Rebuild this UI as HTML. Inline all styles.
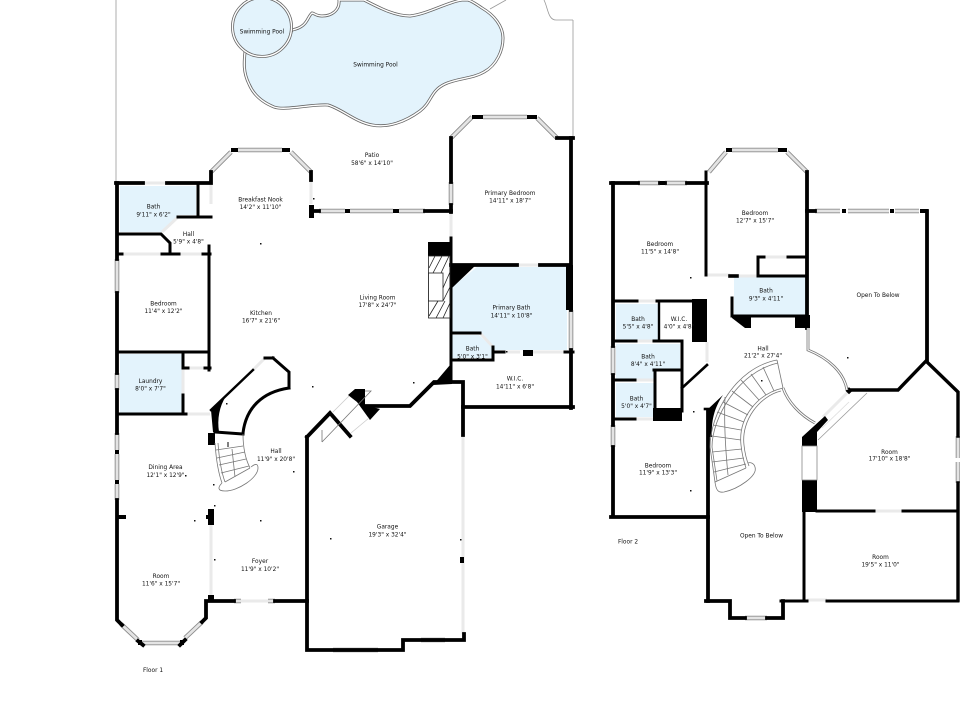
<!DOCTYPE html>
<html><head><meta charset="utf-8"><style>
html,body{margin:0;padding:0;background:#fff;width:960px;height:720px;overflow:hidden}
svg{display:block;filter:blur(.25px)}
text{font-family:"DejaVu Sans","Liberation Sans",sans-serif;font-size:5.85px;fill:#111;text-anchor:middle}
.g{fill:none;stroke:#777;stroke-width:.8}
.k{fill:none;stroke:#000;stroke-linecap:square;stroke-linejoin:miter}
.d{fill:none;stroke:#eaeaea;stroke-width:3}
</style></head><body>
<svg width="960" height="720" viewBox="0 0 960 720" xmlns="http://www.w3.org/2000/svg">
<rect width="960" height="720" fill="#fff"/>
<defs>
<path id="big" d="M245,52 C244,62 243,72 249,84 C254,96 264,103 274,107 C285,111 310,104 328,105 C342,109 355,122 372,125 C388,128 405,122 420,111 C432,102 430,91 445,84 C458,78 472,79 484,72 C497,65 503,50 503,38 C503,26 494,15 482,8 C476,4 472,1 468,0 L462,0 C450,1 428,14 410,16 C394,16 378,7 364,0 L339,0 C340,10 332,16 322,16 C316,16 314,13 312,13 C307,17 308,27 292,30 L288,40 C280,52 262,58 245,52 Z"/>
<path id="win" d="M211,172L231,152M238,150H282M291,152L311,172M319,211H345M350,211H393M399,211H425M117,259V293M117,373V390M117,433V450M117,454V480M117,484V500M121,624L138,640M142,643H180M185,638L202,622M234,601H241M268,601H275M451,182V205M483,117H527M537,118L557,138M451,138L472,117M571,310V350M333,650H378M421,640H445M638,183H660M665,183H687M613,346V375M613,425V447M709,172L726,152M732,150H778M787,152L807,172M815,211H840M848,211H889M895,211H919M958,436V458M958,462V483M745,618H767"/>
</defs>

<!-- property line -->
<path class="g" style="stroke:#999" d="M116,0V182M573,20V138M573,20H556C548,20 548,8 544,0M490,9L506,0"/>

<!-- pools -->
<use href="#big" fill="#e3f3fc" stroke="#666" stroke-width="3"/>
<use href="#big" fill="none" stroke="#fff" stroke-width="1.4"/>
<circle cx="262" cy="27" r="29.5" fill="#e3f3fc" stroke="#666" stroke-width="3"/>
<circle cx="262" cy="27" r="29.5" fill="none" stroke="#fff" stroke-width="1.4"/>

<!-- blue rooms -->
<g fill="#e3f3fc">
<path d="M120,186H196V215H178L162,232H120Z"/>
<rect x="120" y="354" width="62" height="59"/>
<path d="M452,287L477,267H567V350H493V346L479,333H452Z"/>
<path d="M452,335H479L492,347V358H452Z"/>
<rect x="616" y="304" width="42" height="36"/>
<path d="M616,344H680V369H654V380H616Z"/>
<rect x="616" y="383" width="38" height="34"/>
<rect x="734" y="277" width="72" height="38"/>
</g>

<!-- doors / openings light -->
<path class="d" d="M142,183H167M211,180V204M311,180V204M162,232L178,217M122,254H162M179,254H203M188,368H205M183,368V395M186,414H210M253,370L265,358M211,525V595M241,601H268M451,212V238M517,265H540M504,352H520M533,352H565M480,333L493,347M463,435V634M637,301H657M636,341H654M635,380H654M635,419H653M707,342V362M707,275H730M737,276H758M764,257H788M874,511H903M807,600H827M823,417L849,391"/>

<!-- windows -->
<use href="#win" fill="none" stroke="#8c8c8c" stroke-width="4.6"/>
<use href="#win" fill="none" stroke="#e4e4e4" stroke-width="2.8"/>

<!-- FLOOR 1 WALLS -->
<g class="k" stroke-width="3.8" stroke-linecap="butt">
<path d="M116,183H143M167,183H211V172"/>
<path d="M117,183V259M117,293V373M117,390V433M117,500V620L122,625M138,641L143,645M180,645L185,640M202,622L206,618V601H234M275,601H307"/>
<path d="M311,172V180"/>
<path d="M307,437V650H403V640H464V634"/>
<path d="M307,437L330,413L350,436"/>
<path d="M365,406H410L434,382H463V435"/>
<path d="M463,407H573"/>
<path d="M571,138V310M571,350V408"/>
<path d="M557,138H573"/>
<path d="M451,138V182M451,205V212"/>
<path d="M315,211H319M425,211H451"/>
<path d="M451,265H517M540,265H570"/>
<path d="M198,183V217M178,217H211" stroke-width="3"/>
<path d="M117,234H161L170,243V254" stroke-width="3"/>
<path d="M117,254H122M162,254H179M203,254H210" stroke-width="3"/>
<path d="M209,246V254M209,254V370M117,352H209M183,352V368H188M205,368H210M183,395V414M117,414H186" stroke-width="3"/>
<path d="M451,238V382" stroke-width="3"/>
<path d="M452,333H480M493,347V360H451M493,352H504M565,352H573" stroke-width="3"/>
<path d="M273,358H265M273,358L289,372V388" stroke-width="3"/>
<path d="M211,410L253,370" stroke-width="2.4"/>
<path d="M289,388C262,392 246,408 243,433" stroke-width="3"/>
<path d="M215,432L243,434" stroke-width="3"/>
</g>
<g fill="#000">
<rect x="309" y="205" width="5" height="13"/>
<rect x="345" y="209" width="5" height="4"/><rect x="393" y="209" width="6" height="4"/>
<rect x="231" y="148" width="7" height="4"/><rect x="282" y="148" width="8" height="4"/>
<rect x="472" y="115" width="11" height="4"/><rect x="527" y="115" width="10" height="4"/>
<rect x="138" y="640" width="4" height="5"/><rect x="180" y="640" width="4" height="5"/>
<rect x="115" y="450" width="4" height="4"/><rect x="115" y="480" width="4" height="4"/>
<rect x="117" y="515" width="9" height="4"/>
<rect x="206" y="515" width="8" height="4"/><rect x="208" y="509" width="6" height="16"/>
<rect x="208" y="595" width="6" height="6"/>
<rect x="208" y="433" width="7" height="12"/>
<rect x="428" y="242" width="24" height="14"/>
<path d="M451,264H477L452,288Z"/>
<rect x="566" y="265" width="7" height="45"/>
<rect x="523" y="350" width="10" height="6"/>
<path d="M433,385L450,365L452,384Z"/>
<path d="M348,395L355,389H365V405L380,409L370,420L357,402Z"/>
<path d="M211,410L226,396Q216,412 219,432L213,432Z"/>
<rect x="460" y="557" width="4" height="6"/>
<!-- floor 2 blocks -->
<rect x="692" y="299" width="15" height="43"/>
<rect x="653" y="408" width="29" height="13"/>
<path d="M732,315H751V328H745L732,318Z"/>
<rect x="795" y="315" width="15" height="13"/>
<path d="M825,416L828,420L817,432V446H802V437Z"/>
<rect x="802" y="480" width="15" height="32"/>
<path d="M707,410L723,395C714,408 711,422 712,437H707Z"/>
<rect x="847" y="388" width="5" height="5" transform="rotate(45 849 390)"/>
<rect x="726" y="148" width="6" height="4"/><rect x="778" y="148" width="9" height="4"/>
<rect x="842" y="209" width="4" height="4"/><rect x="890" y="209" width="4" height="4"/>
<rect x="920" y="209" width="8" height="4"/>
<rect x="660" y="181" width="5" height="4"/>
</g>

<!-- fireplace -->
<g fill="none" stroke="#222" stroke-width=".8">
<rect x="428.500" y="256" width="21.500" height="62"/>
<rect x="428.500" y="273" width="14.500" height="28" fill="#fff"/>
<path d="M429,268L435,256M433,273L442,256M441,273L449,256M443,288L450,272M443,301L450,287M429,316L438,301M436,318L445,301M443,318L450,303"/>
</g>

<!-- garage door hatch -->
<path class="g" d="M322,442V430M322,442L371,391H365"/>
<path d="M332,413L349,396M351,433L369,418" fill="none" stroke="#ccc" stroke-width=".8"/>

<!-- stair floor 1 -->
<g class="g" stroke-width=".7">
<path d="M215,443C216,458 218,472 222,483M218,443C219,457 221,471 225,482"/>
<path d="M243,434C243,446 245,458 250,468"/>
<path d="M222,483C218,487 217,491 225,491C238,491 258,478 258,468C258,464 256,463 251,467"/>
<path d="M216,450L243,446M217,458L245,452M219,465L246,459M221,473L249,466M225,482L250,468M232,449L235,477"/>
</g>
<path d="M228,447V442" stroke="#000" stroke-width="1"/>

<!-- FLOOR 2 WALLS -->
<g class="k" stroke-width="3.800" stroke-linecap="butt">
<path d="M611,183H638M660,183H665M687,183H707"/>
<path d="M613,183V346M613,375V425M613,447V517M611,517H708"/>
<path d="M706,172V275" stroke-width="3"/>
<path d="M807,172V328"/>
<path d="M807,211H815"/>
<path d="M927,211V361"/>
<path d="M851,390H898L926,361L958,392V436M958,483V600" stroke-width="3.400"/>
<path d="M817,511H874M903,511H958" stroke-width="3"/>
<path d="M804,512V600" stroke-width="3"/>
<path d="M781,601H807M827,601H958" stroke-width="3"/>
<path d="M708,410V601"/>
<path d="M706,601H730V618H745M767,618H783V601"/>
<path d="M613,301H637M657,301H692" stroke-width="3"/>
<path d="M659,301V341" stroke-width="2.400"/>
<path d="M613,341H636M654,341H682V411" stroke-width="3"/>
<path d="M654,370H681M655,370V410" stroke-width="3"/>
<path d="M613,380H635M613,419H635" stroke-width="3"/>
<path d="M682,388L707,365" stroke-width="2.600"/>
<path d="M705,409H710" stroke-width="2.600"/>
<path d="M758,276H807M758,276V257H764M788,257H807" stroke-width="3"/>
<path d="M730,276H737" stroke-width="3.600"/>
<path d="M732,298V316H807" stroke-width="3"/>
</g>
<rect x="802" y="446" width="15" height="34" fill="#fff" stroke="#888" stroke-width=".8"/>

<!-- curved walls / stair floor 2 -->
<g fill="none">
<path d="M808,328V350C828,358 844,372 847,390" stroke="#777" stroke-width="2.800"/>
<path d="M808,328V350C828,358 844,372 847,390" stroke="#fff" stroke-width="1.200"/>
<path d="M783,388C788,402 800,415 815,423" stroke="#777" stroke-width="2.800"/>
<path d="M783,388C788,402 800,415 815,423" stroke="#fff" stroke-width="1.200"/>
</g>
<g class="g" stroke-width=".7">
<path d="M710,447C710,415 735,368 777,360M712,447C712,418 738,372 778,363"/>
<path d="M777,360L783,388"/>
<path d="M783,388C757,394 738,418 741,445C742,455 744,462 746,468M781,391C760,396 741,420 744,445C745,455 747,461 749,466"/>
<path d="M710,447L715,482L746,468M712,447L717,481"/>
<path d="M715,482C716,490 718,493 724,492C738,489 758,476 755,467C754,463 750,462 748,463"/>
<path d="M712,436L741,440M713,425L741,430M717,412L744,422M723,402L748,415M732,391L753,407M741,380L759,400M751,374L766,395M763,367L774,391M712,452L742,449M712,462L744,458M714,472L746,464"/>
<path d="M725,397C724,420 725,445 728,475"/>
</g>
<path class="g" style="stroke:#999" d="M818,440L867,393"/>
<path d="M822,428L849,402" stroke="#ddd" stroke-width=".8" fill="none"/>

<!-- wall ticks -->
<g fill="#111">
<rect x="260" y="243" width="1.500" height="1.500"/><rect x="185" y="475" width="1.500" height="1.500"/>
<rect x="194" y="520" width="1.500" height="1.500"/><rect x="260" y="520" width="1.500" height="1.500"/>
<rect x="312" y="386" width="1.500" height="1.500"/><rect x="313" y="198" width="1.500" height="1.500"/>
<rect x="413" y="382" width="1.500" height="1.500"/><rect x="506" y="351" width="1.500" height="1.500"/>
<rect x="226" y="403" width="1.500" height="1.500"/><rect x="213" y="484" width="1.500" height="1.500"/>
<rect x="214" y="505" width="1.500" height="1.500"/><rect x="214" y="559" width="1.500" height="1.500"/>
<rect x="690" y="277" width="1.500" height="1.500"/><rect x="690" y="490" width="1.500" height="1.500"/>
<rect x="693" y="411" width="1.500" height="1.500"/><rect x="761" y="380" width="1.500" height="1.500"/>
<rect x="847" y="357" width="1.500" height="1.500"/><rect x="293" y="471" width="1.500" height="1.500"/>
<rect x="460" y="539" width="1.500" height="1.500"/><rect x="330" y="538" width="1.500" height="1.500"/>
</g>

<!-- LABELS FLOOR 1 -->
<text x="262" y="33.500">Swimming Pool</text>
<text x="375.500" y="66.500">Swimming Pool</text>
<text x="372" y="157">Patio</text><text x="372" y="165">58'6" x 14'10"</text>
<text x="260.500" y="201.500">Breakfast Nook</text><text x="260.500" y="209">14'2" x 11'10"</text>
<text x="153.500" y="208.500">Bath</text><text x="153.500" y="216.500">9'11" x 6'2"</text>
<text x="188.500" y="236">Hall</text><text x="188.500" y="243.500">5'9" x 4'8"</text>
<text x="510" y="195">Primary Bedroom</text><text x="510" y="202.500">14'11" x 18'7"</text>
<text x="163.500" y="305.500">Bedroom</text><text x="163.500" y="313">11'4" x 12'2"</text>
<text x="261" y="315">Kitchen</text><text x="261" y="322.500">16'7" x 21'6"</text>
<text x="377.500" y="299.500">Living Room</text><text x="377.500" y="307">17'8" x 24'7"</text>
<text x="511.500" y="309.500">Primary Bath</text><text x="511.500" y="317.500">14'11" x 10'8"</text>
<text x="472.500" y="350.500">Bath</text><text x="472.500" y="358.500">5'0" x 3'1"</text>
<text x="515" y="380.500">W.I.C.</text><text x="515" y="388.500">14'11" x 6'8"</text>
<text x="150.500" y="383">Laundry</text><text x="150.500" y="390.500">8'0" x 7'7"</text>
<text x="165.500" y="469">Dining Area</text><text x="165.500" y="477">12'1" x 12'9"</text>
<text x="276" y="453">Hall</text><text x="276" y="461">11'9" x 20'8"</text>
<text x="161" y="578">Room</text><text x="161" y="585.500">11'6" x 15'7"</text>
<text x="260" y="563">Foyer</text><text x="260" y="571">11'9" x 10'2"</text>
<text x="387.500" y="528.500">Garage</text><text x="387.500" y="536.500">19'3" x 32'4"</text>
<text x="153" y="672">Floor 1</text>

<!-- LABELS FLOOR 2 -->
<text x="660" y="246">Bedroom</text><text x="660" y="253.500">11'5" x 14'8"</text>
<text x="755" y="215">Bedroom</text><text x="755" y="222.500">12'7" x 15'7"</text>
<text x="766" y="292.500">Bath</text><text x="766" y="300.500">9'3" x 4'11"</text>
<text x="878" y="297">Open To Below</text>
<text x="638" y="321">Bath</text><text x="638" y="328.500">5'5" x 4'8"</text>
<text x="679" y="321">W.I.C.</text><text x="679" y="328.500">4'0" x 4'8"</text>
<text x="648" y="358.500">Bath</text><text x="648" y="366">8'4" x 4'11"</text>
<text x="636.500" y="400.500">Bath</text><text x="636.500" y="408">5'0" x 4'7"</text>
<text x="763" y="350.500">Hall</text><text x="763" y="357.500">21'2" x 27'4"</text>
<text x="658" y="467.500">Bedroom</text><text x="658" y="474.500">11'9" x 13'3"</text>
<text x="889.500" y="454">Room</text><text x="889.500" y="460.500">17'10" x 18'8"</text>
<text x="880.500" y="559">Room</text><text x="880.500" y="566.500">19'5" x 11'0"</text>
<text x="761.500" y="537.500">Open To Below</text>
<text x="628" y="543.500">Floor 2</text>
</svg>
</body></html>
